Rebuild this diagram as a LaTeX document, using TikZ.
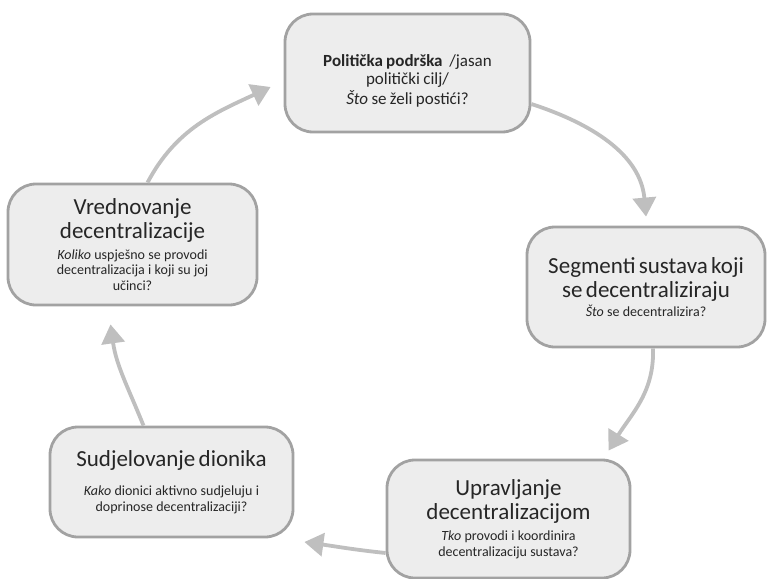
\documentclass[tikz,border=0pt]{standalone}
\usepackage{fontspec}
\setmainfont{Carlito}
\usepackage{tikz}
\usetikzlibrary{arrows.meta}
\definecolor{rub}{HTML}{A2A2A2}
\definecolor{pozadina}{HTML}{EDEDED}
\definecolor{strelica}{HTML}{BFBFBF}
\newcommand{\naslov}{\fontsize{23}{24}\selectfont}
\newcommand{\pitanje}{\fontsize{14}{15.5}\selectfont}

\begin{document}
\begin{tikzpicture}[x=1pt, y=1pt,
    box/.style={draw=rub, fill=pozadina, line width=2.8pt, rounded corners=28pt,
        align=center, inner sep=0pt, text width=236pt, text=black!85},
    arr/.style={draw=strelica, line width=3.8pt, -{Triangle[length=19pt, width=23pt]}}]
    \useasboundingbox (0,0) rectangle (767,-578);
    % Okviri.
    \node[box, minimum width=245pt, minimum height=118pt] (pol) at (407.5,-73)
        {\fontsize{17}{18.5}\selectfont\rule{0pt}{27pt}\textbf{Politička podrška}\ \ /jasan\\ politički cilj/\\[1pt] \textit{Što} se želi postići?\par};
    \node[box, minimum width=238pt, minimum height=120pt] (seg) at (646,-287)
        {{\naslov Segmenti sustava koji\\ se decentraliziraju\par}\vspace{4pt}\pitanje\textit{Što} se decentralizira?\par};
    \node[box, minimum width=243pt, minimum height=118pt] (upr) at (508.5,-519)
        {{\naslov Upravljanje\\ decentralizacijom\par}\vspace{6pt}\pitanje\textit{Tko} provodi i koordinira\\ decentralizaciju sustava?\par};
    \node[box, minimum width=243pt, minimum height=110pt] (sud) at (171.5,-482)
        {{\naslov Sudjelovanje dionika\par}\vspace{14pt}\pitanje\textit{Kako} dionici aktivno sudjeluju i\\ doprinose decentralizaciji?\par};
    \node[box, minimum width=249pt, minimum height=121pt] (vre) at (132.5,-244.5)
        {{\naslov Vrednovanje\\ decentralizacije\par}\vspace{5pt}\pitanje\textit{Koliko} uspješno se provodi\\ decentralizacija i koji su joj\\ učinci?\par};

    % Strelice.
    \draw[arr] ([xshift=15pt]vre.north) to[out=62, in=205] ([xshift=-13pt, yshift=-14pt]pol.west);
    \draw[arr] ([yshift=-31pt]pol.east) to[out=-18, in=95] ([yshift=9pt]seg.north);
    \draw[arr] ([xshift=7pt]seg.south) to[out=-88, in=58] ([xshift=100pt, yshift=8pt]upr.north);
    \draw[arr] ([yshift=-34pt]upr.west) to[out=174, in=-8] ([xshift=10pt, yshift=-60pt]sud.east);
    \draw[arr] ([xshift=-28pt]sud.north) to[out=112, in=-82] ([xshift=-22pt, yshift=-18pt]vre.south);
\end{tikzpicture}
\end{document}
